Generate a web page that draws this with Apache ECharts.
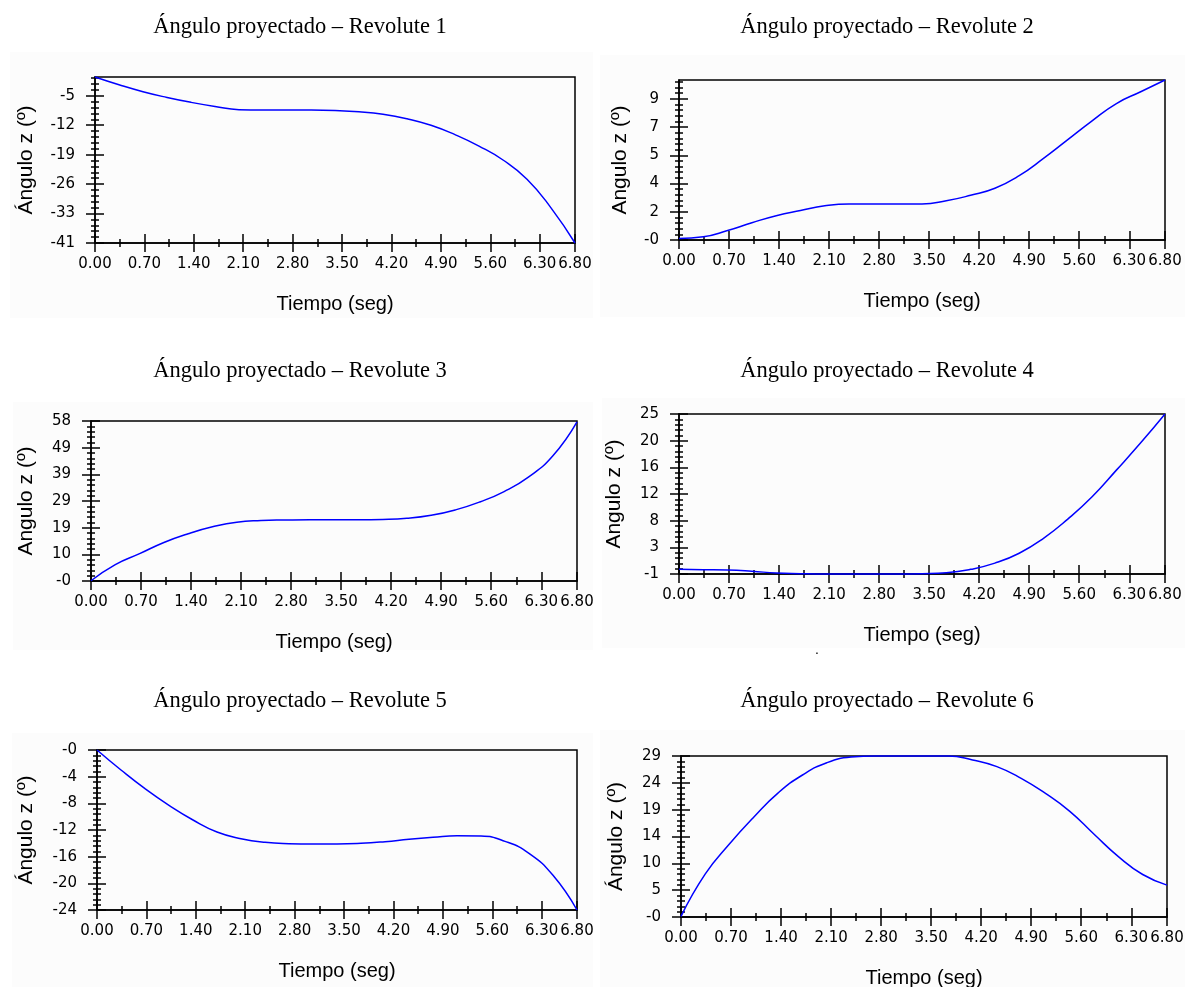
<!DOCTYPE html>
<html>
<head>
<meta charset="utf-8">
<script src="https://cdn.jsdelivr.net/npm/echarts@6/dist/echarts.min.js"></script>
<style>
  html, body { margin: 0; padding: 0; background: #ffffff; }
  #chart { width: 1191px; height: 987px; }
</style>
</head>
<body>
<div id="chart"></div>
<script>
// Sample times (s) shared by the six joint traces
const tiempo = [0.00, 0.34, 0.68, 1.02, 1.36, 1.70, 2.04, 2.38, 2.72, 3.06, 3.40,
                3.74, 4.08, 4.42, 4.76, 5.10, 5.44, 5.78, 6.12, 6.46, 6.80];

// Projected z angle (degrees) for each revolute joint
const revolute1 = [0, -1.9, -3.6, -5.0, -6.2, -7.2, -8.0, -8.1, -8.1, -8.1, -8.2,
                   -8.5, -9.1, -10.2, -11.8, -14.1, -16.9, -20.3, -25.0, -32.0, -40.6];
const revolute2 = [0, 0.1, 0.5, 1.0, 1.45, 1.78, 2.08, 2.2, 2.2, 2.2, 2.2,
                   2.4, 2.75, 3.2, 4.0, 5.1, 6.3, 7.5, 8.6, 9.35, 10.1];
const revolute3 = [0, 5.9, 9.9, 14.0, 17.2, 19.7, 21.4, 22.0, 22.2, 22.3, 22.3,
                   22.3, 22.4, 22.8, 23.9, 25.9, 28.8, 32.6, 37.9, 45.6, 58.1];
const revolute4 = [-0.3, -0.35, -0.4, -0.6, -0.9, -1.0, -1.05, -1.05, -1.05, -1.05, -1.0,
                   -0.85, -0.3, 0.7, 2.3, 4.7, 7.8, 11.4, 15.7, 20.1, 24.75];
const revolute5 = [0, -3.0, -5.8, -8.3, -10.5, -12.3, -13.3, -13.85, -14.05, -14.1, -14.1,
                   -14.0, -13.75, -13.4, -13.1, -12.85, -12.9, -13.7, -15.5, -18.8, -24.0];
const revolute6 = [0, 7.6, 13.0, 17.8, 22.1, 25.3, 27.5, 28.5, 28.7, 28.7, 28.7,
                   28.7, 28.0, 26.8, 24.7, 22.0, 18.8, 14.7, 10.7, 7.5, 5.6];

// Time axis ticks
const xTickValues = [0, 0.7, 1.4, 2.1, 2.8, 3.5, 4.2, 4.9, 5.6, 6.3, 6.8];
const xTickLabels = ['0.00', '0.70', '1.40', '2.10', '2.80', '3.50', '4.20', '4.90', '5.60', '6.30', '6.80'];
const xMinorValues = [0.35, 1.05, 1.75, 2.45, 3.15, 3.85, 4.55, 5.25, 5.95];

// Angle axis ranges and tick labels per joint
const yMins  = [-40.6, -0.1, -0.1, -1.05, -24, -0.1];
const yMaxs  = [0, 10.1, 58.4, 24.75, 0, 28.7];
const ySteps = [7.2, 1.8, 9.75, 4.3, 4, 4.8];
const yTickLabels1 = ['-41', '-33', '-26', '-19', '-12', '-5'];
const yTickLabels2 = ['-0', '2', '4', '5', '7', '9'];
const yTickLabels3 = ['-0', '10', '19', '29', '39', '49', '58'];
const yTickLabels4 = ['-1', '3', '8', '12', '16', '20', '25'];
const yTickLabels5 = ['-24', '-20', '-16', '-12', '-8', '-4', '-0'];
const yTickLabels6 = ['-0', '5', '10', '14', '19', '24', '29'];

const titles = ['Ángulo proyectado – Revolute 1', 'Ángulo proyectado – Revolute 2',
                'Ángulo proyectado – Revolute 3', 'Ángulo proyectado – Revolute 4',
                'Ángulo proyectado – Revolute 5', 'Ángulo proyectado – Revolute 6'];
const yNames = ['Ángulo z (º)', 'Angulo z (º)', 'Angulo z (º)', 'Angulo z (º)', 'Ángulo z (º)', 'Ángulo z (º)'];
const xName = 'Tiempo (seg)';

const seriesValues = [revolute1, revolute2, revolute3, revolute4, revolute5, revolute6];
const yTickLabels = [yTickLabels1, yTickLabels2, yTickLabels3, yTickLabels4, yTickLabels5, yTickLabels6];

// Panel geometry: plot box, tinted backdrop, and title placement (px)
const panels = [
  { left: 95,  top: 77,  width: 480, height: 166, yGap: 58, titleX: 300, titleY: 27,
    bg: [10, 52, 583, 266] },
  { left: 679, top: 80,  width: 486, height: 160, yGap: 48, titleX: 887, titleY: 27,
    bg: [600, 55, 585, 262] },
  { left: 91,  top: 421, width: 486, height: 160, yGap: 54, titleX: 300, titleY: 371,
    bg: [13, 402, 580, 248] },
  { left: 679, top: 414, width: 486, height: 160, yGap: 54, titleX: 887, titleY: 371,
    bg: [602, 398, 583, 250] },
  { left: 97,  top: 750, width: 480, height: 160, yGap: 60, titleX: 300, titleY: 701,
    bg: [12, 733, 581, 254] },
  { left: 681, top: 756, width: 486, height: 161, yGap: 54, titleX: 887, titleY: 701,
    bg: [600, 730, 585, 257] }
];

const SANS = '"Liberation Sans", Arial, sans-serif';
const TICKFONT = '"DejaVu Sans", Verdana, sans-serif';
const SERIF = '"Liberation Serif", "Times New Roman", serif';
const BLACK = '#000000';
const MAJOR_LEN = 9;
const MINOR_LEN = 4;
const MINOR_PER_MAJOR = 5;

function nearestLabel(values, labels, v) {
  let best = 0;
  for (let k = 1; k < values.length; k++) {
    if (Math.abs(values[k] - v) < Math.abs(values[best] - v)) best = k;
  }
  return labels[best];
}

const grids = [], xAxes = [], yAxes = [], series = [], graphics = [];

// faint backdrop behind each chart
panels.forEach(p => {
  graphics.push({
    type: 'rect', z: -10, silent: true,
    shape: { x: p.bg[0], y: p.bg[1], width: p.bg[2], height: p.bg[3] },
    style: { fill: '#fcfcfc' }
  });
});

panels.forEach((p, i) => {
  grids.push({
    left: p.left, top: p.top, width: p.width, height: p.height,
    show: true, borderColor: BLACK, borderWidth: 1.5, backgroundColor: 'transparent',
    containLabel: false, outerBoundsMode: 'none'
  });

  // y tick positions from the axis range
  const labels = yTickLabels[i];
  const yTicks = labels.map((_, k) => yMins[i] + k * ySteps[i]);
  const yMinor = [];
  const minorStep = ySteps[i] / MINOR_PER_MAJOR;
  for (let v = yMins[i] + minorStep; v < yMaxs[i] - 1e-6; v += minorStep) {
    const r = (v - yMins[i]) / ySteps[i];
    if (Math.abs(r - Math.round(r)) > 1e-6) yMinor.push(v);
  }

  const baseX = { type: 'value', gridIndex: i, min: 0, max: 6.8, position: 'bottom',
                  splitLine: { show: false }, axisPointer: { show: false } };
  const baseY = { type: 'value', gridIndex: i, min: yMins[i], max: yMaxs[i], position: 'left',
                  splitLine: { show: false }, axisPointer: { show: false } };
  const tickStyle = { color: BLACK, width: 1.5 };

  // x axes: main (line, labels, outer major ticks), inner major, outer/inner minor
  xAxes.push(Object.assign({}, baseX, {
    axisLine: { show: true, onZero: false, lineStyle: { color: BLACK, width: 1.5 } },
    axisTick: { show: true, inside: false, length: MAJOR_LEN, customValues: xTickValues, lineStyle: tickStyle },
    axisLabel: { show: true, customValues: xTickValues, hideOverlap: false, margin: 14,
                 color: BLACK, fontFamily: TICKFONT, fontSize: 15,
                 formatter: v => nearestLabel(xTickValues, xTickLabels, v) },
    name: xName, nameLocation: 'middle', nameGap: 51,
    nameTextStyle: { color: BLACK, fontFamily: SANS, fontSize: 20 }
  }));
  xAxes.push(Object.assign({}, baseX, {
    axisLine: { show: false, onZero: false },
    axisTick: { show: true, inside: true, length: MAJOR_LEN, customValues: xTickValues, lineStyle: tickStyle },
    axisLabel: { show: false }
  }));
  xAxes.push(Object.assign({}, baseX, {
    axisLine: { show: false, onZero: false },
    axisTick: { show: true, inside: false, length: MINOR_LEN, customValues: xMinorValues, lineStyle: tickStyle },
    axisLabel: { show: false }
  }));
  xAxes.push(Object.assign({}, baseX, {
    axisLine: { show: false, onZero: false },
    axisTick: { show: true, inside: true, length: MINOR_LEN, customValues: xMinorValues, lineStyle: tickStyle },
    axisLabel: { show: false }
  }));

  // y axes: same arrangement
  yAxes.push(Object.assign({}, baseY, {
    axisLine: { show: true, onZero: false, lineStyle: { color: BLACK, width: 1.5 } },
    axisTick: { show: true, inside: false, length: MAJOR_LEN, customValues: yTicks, lineStyle: tickStyle },
    axisLabel: { show: true, customValues: yTicks, hideOverlap: false, margin: 20,
                 color: BLACK, fontFamily: TICKFONT, fontSize: 15,
                 formatter: v => nearestLabel(yTicks, labels, v) },
    name: yNames[i], nameLocation: 'middle', nameGap: p.yGap, nameRotate: 90,
    nameTextStyle: { color: BLACK, fontFamily: SANS, fontSize: 21 }
  }));
  yAxes.push(Object.assign({}, baseY, {
    axisLine: { show: false, onZero: false },
    axisTick: { show: true, inside: true, length: MAJOR_LEN, customValues: yTicks, lineStyle: tickStyle },
    axisLabel: { show: false }
  }));
  yAxes.push(Object.assign({}, baseY, {
    axisLine: { show: false, onZero: false },
    axisTick: { show: true, inside: false, length: MINOR_LEN, customValues: yMinor, lineStyle: tickStyle },
    axisLabel: { show: false }
  }));
  yAxes.push(Object.assign({}, baseY, {
    axisLine: { show: false, onZero: false },
    axisTick: { show: true, inside: true, length: MINOR_LEN, customValues: yMinor, lineStyle: tickStyle },
    axisLabel: { show: false }
  }));

  series.push({
    type: 'line', xAxisIndex: 4 * i, yAxisIndex: 4 * i,
    data: tiempo.map((t, k) => [t, seriesValues[i][k]]),
    showSymbol: false, smooth: 0.5, clip: false,
    lineStyle: { color: '#0000ff', width: 1.5 }, silent: true
  });

  graphics.push({
    type: 'text', x: p.titleX, y: p.titleY,
    style: { text: titles[i], fill: BLACK, font: '22.5px ' + SERIF, textAlign: 'center', textVerticalAlign: 'middle' }
  });
});

// stray period printed beneath the fourth chart
graphics.push({ type: 'text', x: 817, y: 650,
  style: { text: '.', fill: BLACK, font: '14px ' + SANS, textAlign: 'center', textVerticalAlign: 'middle' } });

const chart = echarts.init(document.getElementById('chart'), null, { renderer: 'canvas' });
chart.setOption({
  animation: false,
  backgroundColor: '#ffffff',
  grid: grids,
  xAxis: xAxes,
  yAxis: yAxes,
  series: series,
  graphic: graphics
});
</script>
</body>
</html>
